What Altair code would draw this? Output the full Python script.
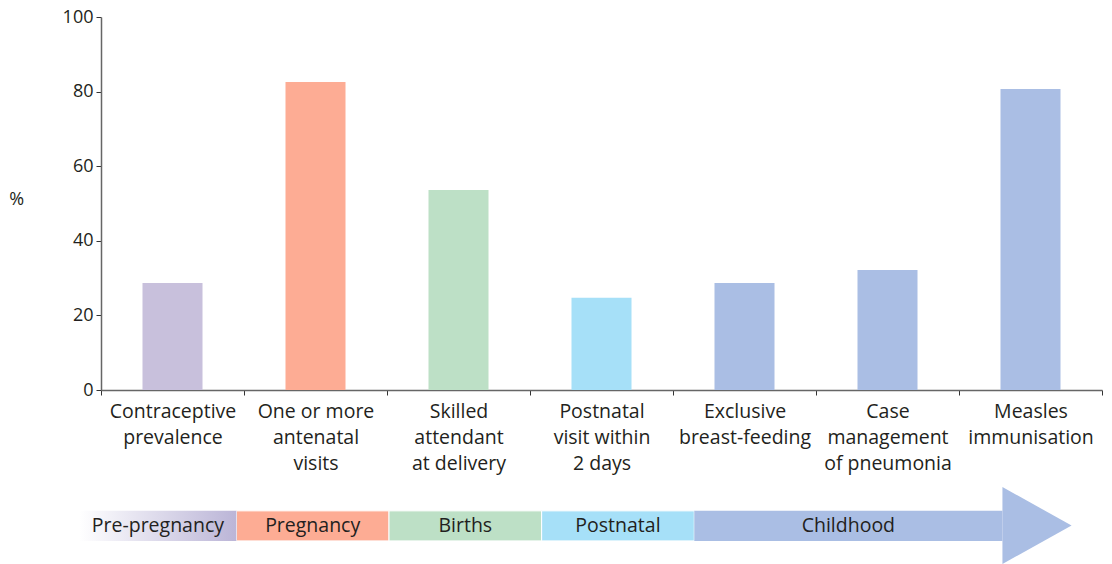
import altair as alt
import pandas as pd

FONT = "Open Sans"
TEXT = "#231f20"

# ---- data ----
categories = [
    "Contraceptive|prevalence",
    "One or more|antenatal|visits",
    "Skilled|attendant|at delivery",
    "Postnatal|visit within|2 days",
    "Exclusive|breast-feeding",
    "Case|management|of pneumonia",
    "Measles|immunisation",
]
values = [28.7, 82.6, 53.6, 24.7, 28.7, 32.2, 80.7]
bar_stage = ["Pre-pregnancy", "Pregnancy", "Births", "Postnatal",
             "Childhood", "Childhood", "Childhood"]

stages = ["Pre-pregnancy", "Pregnancy", "Births", "Postnatal", "Childhood"]
stage_colors = ["#c8c0dc", "#fdac94", "#bde0c6", "#a6e0f8", "#aabee4"]
# stage spans along the category axis (in category units)
stage_start = [-0.15, 0.94, 2.0, 3.06, 4.12]
stage_end = [0.94, 2.0, 3.06, 4.12, 6.26]
head_x = [6.26, 6.74]
head_lo = [0.0, 0.5]
head_hi = [1.0, 0.5]
body_lo = 0.30
body_hi = 0.69
y_ticks = [0, 20, 40, 60, 80, 100]

PLOT_W = 1001
PLOT_H = 373

bar_df = pd.DataFrame({"cat": categories, "value": values, "stage": bar_stage})
stage_df = pd.DataFrame({"stage": stages, "start": stage_start, "end": stage_end})
stage_df["mid"] = (stage_df["start"] + stage_df["end"]) / 2
stage_df["lo"] = body_lo
stage_df["hi"] = body_hi
stage_df["cy"] = (body_lo + body_hi) / 2
head_df = pd.DataFrame({"x": head_x, "lo": head_lo, "hi": head_hi})

color_scale = alt.Scale(domain=stages, range=stage_colors)

bars = alt.Chart(bar_df).mark_bar(size=60).encode(
    x=alt.X(
        "cat:N", sort=None,
        scale=alt.Scale(paddingInner=0, paddingOuter=0),
        axis=alt.Axis(
            title=None, labelExpr="split(datum.label, '|')", labelAngle=0,
            tickBand="extent", labelLineHeight=26, labelPadding=7,
            labelBaseline="top", tickSize=5, labelFontSize=19.5,
        ),
    ),
    y=alt.Y(
        "value:Q",
        scale=alt.Scale(domain=[0, 100], nice=False),
        axis=alt.Axis(
            values=y_ticks, title="%", titleAngle=0, titleBaseline="middle",
            titlePadding=46, titleY=182, grid=False, tickSize=5, labelPadding=3,
        ),
    ),
    color=alt.Color("stage:N", scale=color_scale, legend=None),
)

ax = alt.Scale(domain=[0, 7 * PLOT_W / 1008], nice=False, zero=False)
ay = alt.Scale(domain=[0, 1], range=[547, 470], nice=False, zero=False)

grad = alt.Chart(stage_df).transform_filter(
    alt.datum.stage == "Pre-pregnancy"
).mark_rect(
    fill=alt.Gradient(
        gradient="linear",
        stops=[alt.GradientStop(color="#ffffff", offset=0),
               alt.GradientStop(color="#bbb5d7", offset=1)],
        x1=0, x2=1, y1=0, y2=0,
    ),
).encode(
    x=alt.X("start:Q", scale=ax, axis=None), x2="end:Q",
    y=alt.Y("lo:Q", scale=ay, axis=None), y2="hi:Q",
)

rects = alt.Chart(stage_df).transform_filter(
    alt.datum.stage != "Pre-pregnancy"
).mark_rect(stroke="white", strokeWidth=1).encode(
    x=alt.X("start:Q", scale=ax, axis=None), x2="end:Q",
    y=alt.Y("lo:Q", scale=ay, axis=None), y2="hi:Q",
    color=alt.Color("stage:N", scale=color_scale, legend=None),
    strokeOpacity=alt.condition(alt.datum.stage == "Childhood",
                                alt.value(0), alt.value(1)),
)

head = alt.Chart(head_df).mark_area(color="#aabee4").encode(
    x=alt.X("x:Q", scale=ax, axis=None),
    y=alt.Y("lo:Q", scale=ay, axis=None), y2="hi:Q",
)

labels = alt.Chart(stage_df).mark_text(
    font=FONT, fontSize=19.5, color=TEXT, baseline="middle"
).encode(
    x=alt.X("mid:Q", scale=ax, axis=None),
    y=alt.Y("cy:Q", scale=ay, axis=None),
    text="stage:N",
)

arrow = alt.layer(head, rects, grad, labels)

chart = alt.layer(bars, arrow).resolve_scale(
    x="independent", y="independent"
).properties(
    width=PLOT_W, height=PLOT_H,
    padding={"left": 0, "top": 0, "right": 0, "bottom": 0},
).configure_view(stroke=None).configure_axis(
    labelFont=FONT, titleFont=FONT, labelFontSize=18, titleFontSize=18,
    labelColor=TEXT, titleColor=TEXT, titleFontWeight="normal",
    domainColor="#666666", domainWidth=1.5, tickColor="#333333", tickWidth=1,
)

chart.save("out.html", embed_options={"renderer": "svg", "actions": False})
